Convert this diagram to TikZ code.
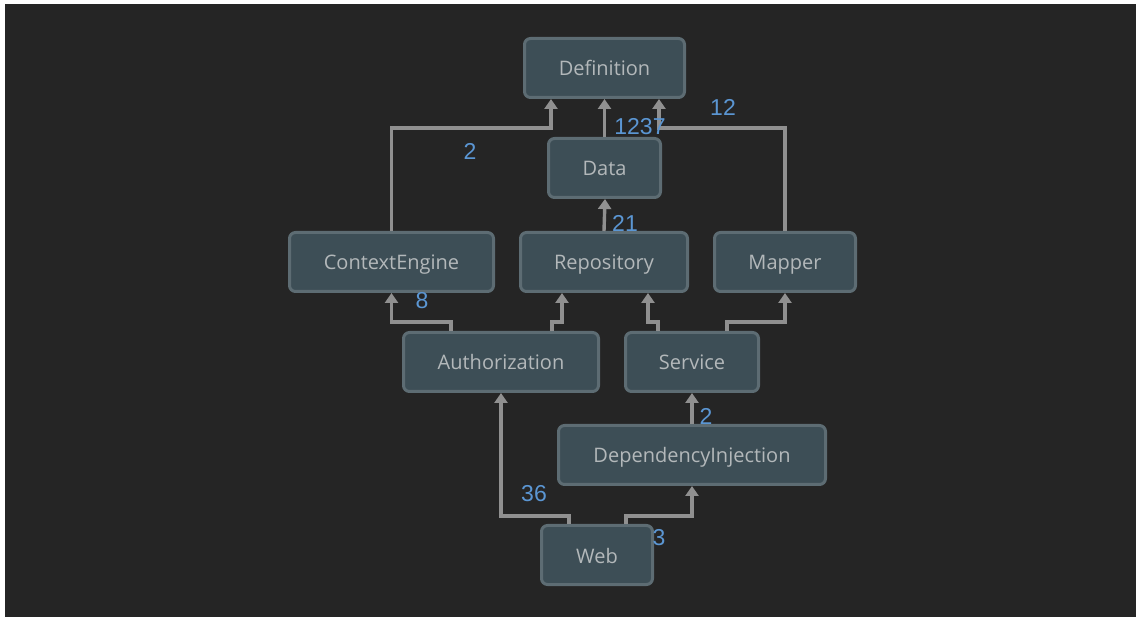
\documentclass[tikz,border=0pt]{standalone}
\usepackage{fontspec}
\setmainfont{Open Sans}
\newfontfamily\numfont{Liberation Sans}
\usetikzlibrary{arrows.meta}

\definecolor{canvas}{HTML}{252525}
\definecolor{boxfill}{HTML}{3D4E56}
\definecolor{boxline}{HTML}{5D6C73}
\definecolor{boxtext}{HTML}{B3B8BA}
\definecolor{edgecol}{HTML}{909090}
\definecolor{weight}{HTML}{5B96D3}

\tikzset{
  module/.style={draw=boxline, fill=boxfill, line width=3pt, rounded corners=6pt,
    minimum height=59pt, inner sep=0pt, text=boxtext,
    text height=17pt, text depth=1pt,
    font=\fontsize{20}{24}\selectfont},
  dep/.style={draw=edgecol, line width=3.4pt,
    -{Triangle[width=13pt,length=10pt]}},
  count/.style={text=weight, inner sep=0pt, font=\numfont\fontsize{23}{26}\selectfont}
}

\begin{document}
\begin{tikzpicture}[x=1pt, y=-1pt]
  \useasboundingbox (0,0) rectangle (1136,617);
  \fill[white] (0,0) rectangle (1136,617);
  \fill[canvas] (5,4) rectangle (1136,617);

  % modules
  \node[module, minimum width=160pt] (def)  at (604.5,68)  {Definition};
  \node[module, minimum width=112pt] (data) at (604.5,168) {Data};
  \node[module, minimum width=204pt] (ce)   at (391.5,262) {ContextEngine};
  \node[module, minimum width=167pt] (repo) at (604,262)   {Repository};
  \node[module, minimum width=141pt] (map)  at (785,262)   {Mapper};
  \node[module, minimum width=195pt] (auth) at (501,362)   {Authorization};
  \node[module, minimum width=133pt] (svc)  at (692,362)   {Service};
  \node[module, minimum width=267pt] (di)   at (692,455)   {DependencyInjection};
  \node[module, minimum width=111pt] (web)  at (597,555)   {Web};

  % dependencies
  \draw[dep] (data.north) -- (def.south);
  \draw[dep] (ce.north) -- ++(0,-103) -| ([xshift=-53.5pt]def.south);
  \draw[dep] (map.north) -- ++(0,-103) -| ([xshift=54.5pt]def.south);
  \draw[dep] (repo.north) -- ([xshift=0.5pt]data.south);
  \draw[dep] ([xshift=-50pt]auth.north) -- ++(0,-9) -| (ce.south);
  \draw[dep] ([xshift=51pt]auth.north) -- ++(0,-9) -| ([xshift=-42pt]repo.south);
  \draw[dep] ([xshift=-34pt]svc.north) -- ++(0,-9) -| ([xshift=44pt]repo.south);
  \draw[dep] ([xshift=35pt]svc.north) -- ++(0,-9) -| (map.south);
  \draw[dep] (di.north) -- (svc.south);
  \draw[dep] ([xshift=-28pt]web.north) -- ++(0,-8) -| (auth.south);
  \draw[dep] ([xshift=29pt]web.north) -- ++(0,-8) -| (di.south);

  % dependency counts
  \node[count] (n1) at (640,127) {1237};
  \node[count] (n2) at (470,151) {2};
  \node[count] (n3) at (723,107) {12};
  \node[count] (n4) at (625,223) {21};
  \node[count] (n5) at (422,301) {8};
  \node[count] (n6) at (706,416) {2};
  \node[count] (n7) at (534,494) {36};
  \node[count] (n8) at (659,538) {3};
\end{tikzpicture}
\end{document}
